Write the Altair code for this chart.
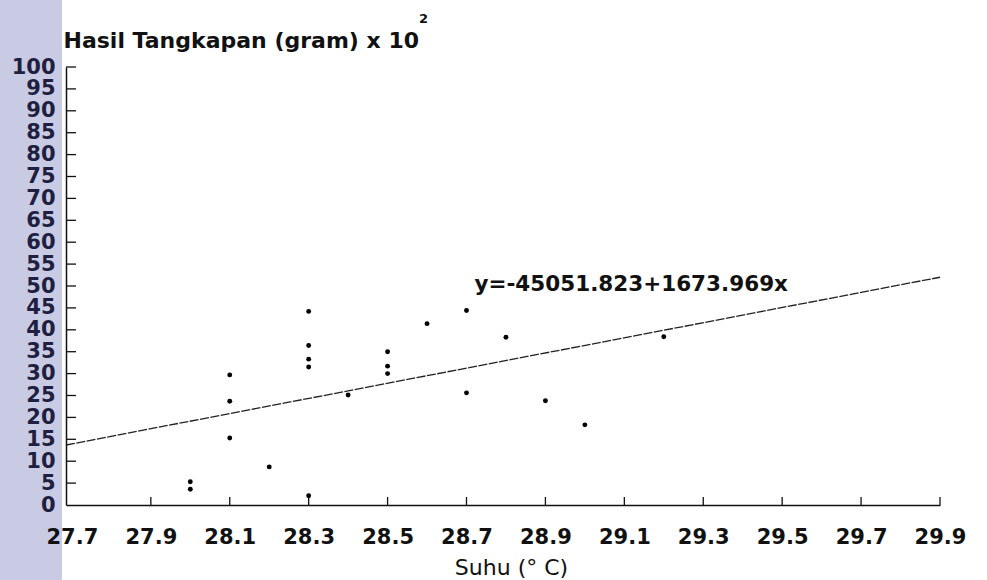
import altair as alt
import pandas as pd

# ---- data ----
suhu = [28.0, 28.0, 28.1, 28.1, 28.1, 28.2, 28.3, 28.3, 28.3, 28.3, 28.3,
        28.4, 28.5, 28.5, 28.5, 28.6, 28.7, 28.7, 28.8, 28.9, 29.0, 29.2]
hasil = [5.3, 3.6, 29.7, 23.7, 15.3, 8.7, 44.2, 36.4, 33.3, 31.5, 2.1,
         25.1, 35.0, 31.7, 30.0, 41.4, 44.4, 25.6, 38.3, 23.8, 18.3, 38.4]

# regression line end points as drawn
line_x = [27.685, 29.9]
line_y = [13.7, 52.0]

x_ticks = [27.7, 27.9, 28.1, 28.3, 28.5, 28.7, 28.9, 29.1, 29.3, 29.5, 29.7, 29.9]
y_ticks = list(range(0, 101, 5))
equation = "y=-45051.823+1673.969x"

pts = pd.DataFrame({"suhu": suhu, "hasil": hasil})
reg = pd.DataFrame({"suhu": line_x, "hasil": line_y})
xt = pd.DataFrame({"suhu": x_ticks[1:]})
yt = pd.DataFrame({"hasil": y_ticks[1:]})
one = pd.DataFrame({"a": [0]})

W, H = 874, 438
xscale = alt.Scale(domain=[27.685, 29.9], nice=False, zero=False)
yscale = alt.Scale(domain=[0, 100], nice=False, zero=False)

xaxis = alt.Axis(
    values=x_ticks, format=".1f", title="Suhu (° C)",
    ticks=False, tickSize=0, grid=False, labelFlush=False, labelOverlap=False,
    labelPadding=21, labelBaseline="top",
    labelFont="DejaVu Sans", labelFontWeight="bold", labelFontSize=21, labelColor="#111111",
    domainColor="#111111", domainWidth=1.5,
    titleFont="DejaVu Sans", titleFontWeight="normal", titleFontSize=22, titleColor="#111111",
    titleX=445, titleY=69, titleAlign="center", titleBaseline="alphabetic",
    zindex=1,
)
yaxis = alt.Axis(
    values=y_ticks, format="d", title="Hasil Tangkapan (gram) x 10",
    ticks=False, tickSize=0, grid=False, labelFlush=False, labelOverlap=False,
    labelPadding=11, labelBaseline="middle",
    labelFont="DejaVu Sans", labelFontWeight="bold", labelFontSize=21, labelColor="#1f1f42",
    domainColor="#111111", domainWidth=1.5,
    titleFont="DejaVu Sans", titleFontWeight="bold", titleFontSize=22, titleColor="#111111",
    titleAngle=0, titleX=-3, titleY=-20, titleAlign="left", titleBaseline="alphabetic",
    zindex=1,
)

X = lambda: alt.X("suhu:Q", scale=xscale, axis=xaxis)
Y = lambda: alt.Y("hasil:Q", scale=yscale, axis=yaxis)

band = alt.Chart(one).mark_rect(color="#c9cbe4").encode(
    x=alt.value(-66), x2=alt.value(-4), y=alt.value(-67), y2=alt.value(513)
)

points = alt.Chart(pts).mark_circle(size=24, color="#000000", opacity=1).encode(x=X(), y=Y())

line = alt.Chart(reg).mark_line(color="#222222", strokeWidth=1.3, strokeDash=[9, 1.5]).encode(
    x=X(), y=Y()
)

xtick_rules = alt.Chart(xt).mark_rule(color="#111111", strokeWidth=1.3).encode(
    x=X(), y=alt.value(H), y2=alt.value(H - 8),
)
ytick_rules = alt.Chart(yt).mark_rule(color="#111111", strokeWidth=1.3).encode(
    y=Y(), x=alt.value(0), x2=alt.value(10),
)

eq_text = alt.Chart(one).mark_text(
    text=equation, align="left", baseline="alphabetic",
    font="DejaVu Sans", fontWeight="bold", fontSize=21.5, color="#111111",
).encode(
    x=alt.X(datum=28.72, scale=xscale, axis=xaxis),
    y=alt.Y(datum=48.9, scale=yscale, axis=yaxis),
)

sup_text = alt.Chart(one).mark_text(
    text="2", align="left", baseline="alphabetic",
    font="DejaVu Sans", fontWeight="bold", fontSize=13, color="#111111",
).encode(x=alt.value(353), y=alt.value(-44))

chart = alt.layer(
    band, line, xtick_rules, ytick_rules, points, eq_text, sup_text
).properties(
    width=W, height=H,
    autosize=alt.AutoSizeParams(type="none"),
    padding={"left": 66, "top": 67, "right": 47, "bottom": 75},
    background="white",
).configure_view(stroke=None)

chart.save("out.html", embed_options={"renderer": "svg", "actions": False})
